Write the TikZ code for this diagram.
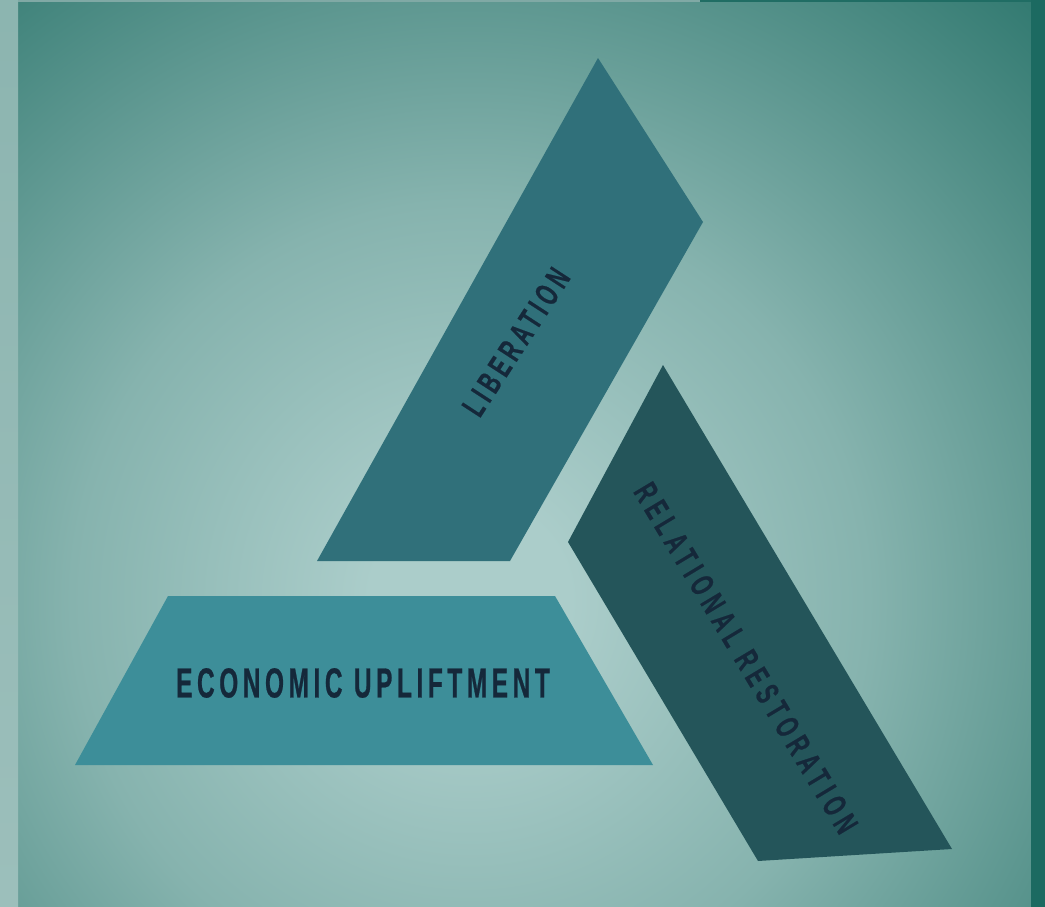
\documentclass[tikz,border=0pt]{standalone}
\usepackage{fontspec}
\newfontfamily\ecofont[FakeStretch=0.58,LetterSpace=11,FakeBold=0.6]{Liberation Sans}
\newfontfamily\libfont[FakeStretch=0.62,LetterSpace=15,FakeBold=0.6]{Liberation Sans}
\newfontfamily\relfont[FakeStretch=0.62,LetterSpace=18,FakeBold=0.6]{Liberation Sans}
\definecolor{bgc}{HTML}{ABCDCA}
\definecolor{bgm}{HTML}{86B3AE}
\definecolor{bge}{HTML}{317970}
\definecolor{libfill}{HTML}{30707A}
\definecolor{relfill}{HTML}{24555A}
\definecolor{ecofill}{HTML}{3D8E99}
\definecolor{txt}{HTML}{15283A}
\definecolor{leftstrip}{HTML}{9CBFBB}
\definecolor{topstrip}{HTML}{80A9A5}
\definecolor{rightstrip}{HTML}{1C6A61}
\pgfdeclareradialshading{bgshade}{\pgfpoint{0bp}{0bp}}{color(0bp)=(bgc); color(3bp)=(bgc); color(12bp)=(bgm); color(25bp)=(bge); color(50bp)=(bge)}
\tikzset{
  lab/.style={inner sep=0pt, text=txt},
  band/.style={draw=none}
}
\begin{document}
\begin{tikzpicture}[x=1pt,y=-1pt]
\useasboundingbox (0,0) rectangle (1045,907);
% background
\fill[bge] (0,0) rectangle (1045,907);
\begin{scope}
  \clip (18,2) rectangle (1031,907);
  \shade[shading=bgshade] (470,600) circle (830);
\end{scope}
% frame strips
\shade[top color=leftstrip!85!bge, bottom color=leftstrip] (0,0) rectangle (18,907);
\fill[topstrip] (18,0) rectangle (700,2);
\fill[rightstrip!80!bge] (700,0) rectangle (1031,2);
\fill[rightstrip] (1031,0) rectangle (1045,907);
% bands
\fill[band, libfill] (598,58) -- (703,222) -- (510,561) -- (317,561) -- cycle;
\fill[band, relfill] (663,365) -- (952,849) -- (758,861) -- (568,542) -- cycle;
\fill[band, ecofill] (168,596) -- (555,596) -- (653,765) -- (75,765) -- cycle;
% labels
\node[lab, font=\libfont\bfseries\fontsize{33}{33}\selectfont, rotate=57] (lib) at (516,342) {LIBERATION};
\node[lab, font=\relfont\bfseries\fontsize{33}{33}\selectfont, rotate=-59] (rel) at (746,658) {RELATIONAL RESTORATION};
\node[lab, font=\ecofont\bfseries\fontsize{42}{42}\selectfont] (eco) at (363,683) {ECONOMIC UPLIFTMENT};
\end{tikzpicture}
\end{document}
